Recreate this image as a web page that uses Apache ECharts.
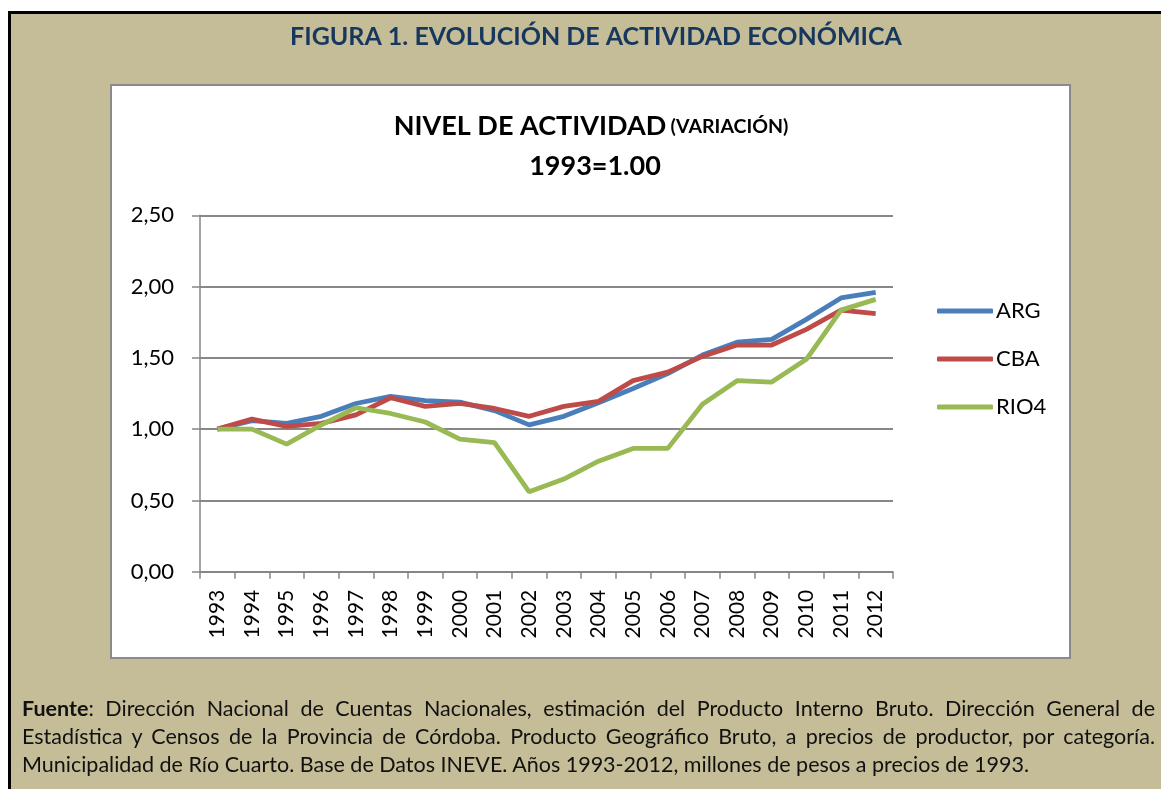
<!DOCTYPE html>
<html>
<head>
<meta charset="utf-8">
<script src="https://cdn.jsdelivr.net/npm/echarts@6/dist/echarts.min.js"></script>
<style>
    html, body { margin: 0; padding: 0; background: #fff; width: 1161px; height: 789px; overflow: hidden; }
    #frame {
        position: absolute; left: 8px; top: 11px; width: 1153px; height: 778px;
        background: #C4BD97; border-top: 3px solid #000; border-left: 3px solid #000;
        box-sizing: border-box;
    }
    #box {
        position: absolute; left: 110px; top: 84px; width: 961px; height: 575px;
        background: #fff; border: 2px solid #8a8a8a; box-sizing: border-box;
    }
    #chart { position: absolute; left: 0; top: 0; width: 1161px; height: 789px; }
    #fuente {
        position: absolute; left: 22px; top: 694px; width: 1133px;
        font-family: Lato, 'Liberation Sans', sans-serif; font-size: 21.5px; line-height: 28px; color: #111;
    }
    #fuente div { white-space: nowrap; }
    #fuente .j { text-align: justify; text-align-last: justify; white-space: normal; }
</style>
</head>
<body>
<div id="frame"></div>
<div id="box"></div>
<div id="chart"></div>
<div id="fuente">
    <div class="j"><b>Fuente</b>: Dirección Nacional de Cuentas Nacionales, estimación del Producto Interno Bruto. Dirección General de</div>
    <div class="j">Estadística y Censos de la Provincia de Córdoba. Producto Geográfico Bruto, a precios de productor, por categoría.</div>
    <div>Municipalidad de Río Cuarto. Base de Datos INEVE. Años 1993-2012, millones de pesos a precios de 1993.</div>
</div>
<script>
// datos
const years = ['1993', '1994', '1995', '1996', '1997', '1998', '1999', '2000', '2001', '2002',
    '2003', '2004', '2005', '2006', '2007', '2008', '2009', '2010', '2011', '2012'];
const arg = [1.00, 1.06, 1.04, 1.09, 1.18, 1.23, 1.20, 1.19, 1.13, 1.03,
    1.09, 1.185, 1.285, 1.39, 1.52, 1.61, 1.63, 1.77, 1.92, 1.96];
const cba = [1.00, 1.07, 1.02, 1.04, 1.10, 1.22, 1.16, 1.18, 1.145, 1.09,
    1.16, 1.195, 1.34, 1.40, 1.51, 1.59, 1.59, 1.70, 1.835, 1.81];
const rio4 = [1.00, 1.00, 0.895, 1.03, 1.15, 1.11, 1.05, 0.93, 0.905, 0.56,
    0.65, 0.775, 0.865, 0.865, 1.175, 1.34, 1.33, 1.49, 1.835, 1.91];

const font = 'Lato, "Liberation Sans", sans-serif';
const gridGray = '#878787';

let chart = echarts.init(document.getElementById('chart'));

function serie(name, data, color) {
    return {
        name: name,
        type: 'line',
        symbol: 'none',
        data: data,
        itemStyle: { color: color },
        lineStyle: { color: color, width: 4.8 }
    };
}

let option = {
    backgroundColor: 'transparent',
    animation: false,
    textStyle: { fontFamily: font },
    title: [
        {
            text: 'FIGURA 1. EVOLUCIÓN DE ACTIVIDAD ECONÓMICA',
            left: 591, top: 19, textAlign: 'center',
            textStyle: { fontFamily: font, fontSize: 25, fontWeight: 'bold', color: '#17375E' }
        },
        {
            text: '{a|NIVEL DE ACTIVIDAD} {b|(VARIACIÓN)}',
            left: 586, top: 108, textAlign: 'center',
            textStyle: {
                rich: {
                    a: { fontFamily: font, fontSize: 27, fontWeight: 'bold', color: '#000' },
                    b: { fontFamily: font, fontSize: 19.5, fontWeight: 'bold', color: '#000' }
                }
            }
        },
        {
            text: '1993=1.00',
            left: 590, top: 148, textAlign: 'center',
            textStyle: { fontFamily: font, fontSize: 27, fontWeight: 'bold', color: '#000' }
        }
    ],
    legend: {
        orient: 'vertical',
        left: 932, top: 295,
        icon: 'roundRect',
        itemWidth: 56, itemHeight: 5,
        itemGap: 26,
        textStyle: { fontFamily: font, fontSize: 22, color: '#000', padding: [0, 0, 0, -2] },
        data: ['ARG', 'CBA', 'RIO4']
    },
    grid: { left: 200, right: 268, top: 215.3, bottom: 217.3 },
    xAxis: {
        type: 'category',
        data: years,
        axisLine: { lineStyle: { color: gridGray, width: 1.5 } },
        axisTick: { show: true, interval: 0, length: 7, lineStyle: { color: gridGray, width: 1.5 } },
        axisLabel: { rotate: 90, interval: 0, margin: 18, fontSize: 21, color: '#000', fontFamily: font }
    },
    yAxis: {
        type: 'value',
        min: 0, max: 2.5, interval: 0.5,
        axisLine: { show: true, lineStyle: { color: gridGray, width: 1.5 } },
        axisTick: { show: true, length: 8, lineStyle: { color: gridGray, width: 1.5 } },
        axisLabel: {
            margin: 26, fontSize: 22, color: '#000', fontFamily: font,
            formatter: v => v.toFixed(2).replace('.', ',')
        },
        splitLine: { lineStyle: { color: gridGray, width: 2 } }
    },
    series: [
        serie('ARG', arg, '#4A7EBB'),
        serie('CBA', cba, '#BE4B48'),
        serie('RIO4', rio4, '#98B954')
    ]
};

chart.setOption(option);
</script>
</body>
</html>
